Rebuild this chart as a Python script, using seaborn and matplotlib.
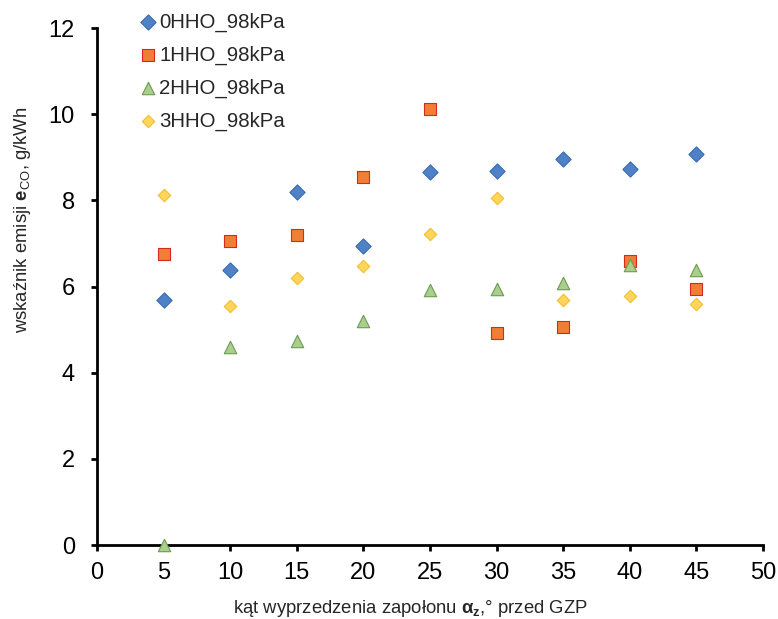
import numpy as np
import pandas as pd
import seaborn as sns
import matplotlib.pyplot as plt

# ignition advance angle, deg before TDC
angle = [5, 10, 15, 20, 25, 30, 35, 40, 45]

hho0 = [5.69, 6.38, 8.19, 6.94, 8.66, 8.68, 8.96, 8.73, 9.08]
hho1 = [6.75, 7.06, 7.20, 8.54, 10.12, 4.92, 5.06, 6.59, 5.94]
hho2 = [0.0, 4.60, 4.74, 5.20, 5.92, 5.94, 6.08, 6.50, 6.38]
hho3 = [8.12, 5.55, 6.20, 6.48, 7.22, 8.05, 5.69, 5.78, 5.59]

labels = ['0HHO_98kPa', '1HHO_98kPa', '2HHO_98kPa', '3HHO_98kPa']


def main():
    sns.set_style('white')
    plt.rcParams['font.family'] = ['Liberation Sans', 'DejaVu Sans']
    plt.rcParams['mathtext.fontset'] = 'custom'
    plt.rcParams['mathtext.rm'] = 'Liberation Sans'
    plt.rcParams['mathtext.it'] = 'Liberation Sans:italic'
    plt.rcParams['mathtext.bf'] = 'Liberation Sans:bold'

    fig = plt.figure(figsize=(7.78, 6.19), dpi=100)
    ax = fig.add_axes([0.1247, 0.1195, 0.856, 0.835])

    series = [hho0, hho1, hho2, hho3]
    styles = [
        dict(marker='D', s=60, color='#4F81C7', edgecolor='#3A6BB0'),
        dict(marker='s', s=80, color='#F07F35', edgecolor='#D42A1E'),
        dict(marker='^', s=80, color='#A8CF8C', edgecolor='#6E9A52'),
        dict(marker='D', s=40, color='#FFD65C', edgecolor='#F5BE2E'),
    ]
    for vals, lab, st in zip(series, labels, styles):
        df = pd.DataFrame({'x': angle, 'y': vals})
        sns.scatterplot(data=df, x='x', y='y', ax=ax, label=lab,
                        linewidth=0.8, clip_on=False, zorder=3, **st)

    ax.set_xlim(0, 50)
    ax.set_ylim(0, 12)
    ax.set_xticks(np.arange(0, 51, 5))
    ax.set_yticks(np.arange(0, 13, 2))
    for side in ['top', 'right']:
        ax.spines[side].set_visible(False)
    for side in ['left', 'bottom']:
        ax.spines[side].set_color('black')
        ax.spines[side].set_linewidth(2)
    ax.tick_params(axis='both', direction='out', length=4, width=2,
                   color='black', labelsize=17, labelcolor='black',
                   bottom=True, left=True)
    ax.tick_params(axis='x', pad=8)
    ax.tick_params(axis='y', pad=12)

    ax.set_xlabel(r'kąt wyprzedzenia zapołonu $\mathbf{\alpha_z}$,° przed GZP',
                  fontsize=13.3)
    ax.set_ylabel(r'wskaźnik emisji $\mathbf{e}_{\mathrm{CO}}$, g/kWh',
                  fontsize=13.3)
    ax.xaxis.set_label_coords(0.471, -0.103)
    ax.yaxis.set_label_coords(-0.096, 0.63)

    ax.legend(loc='upper left', bbox_to_anchor=(0.162, 1.0),
              bbox_transform=fig.transFigure, frameon=False,
              fontsize=14.7, handletextpad=0.02, labelspacing=0.68,
              handlelength=1.0, borderaxespad=0.2)

    fig.savefig('out.png', dpi=100)
    plt.close(fig)


if __name__ == "__main__":
    main()
